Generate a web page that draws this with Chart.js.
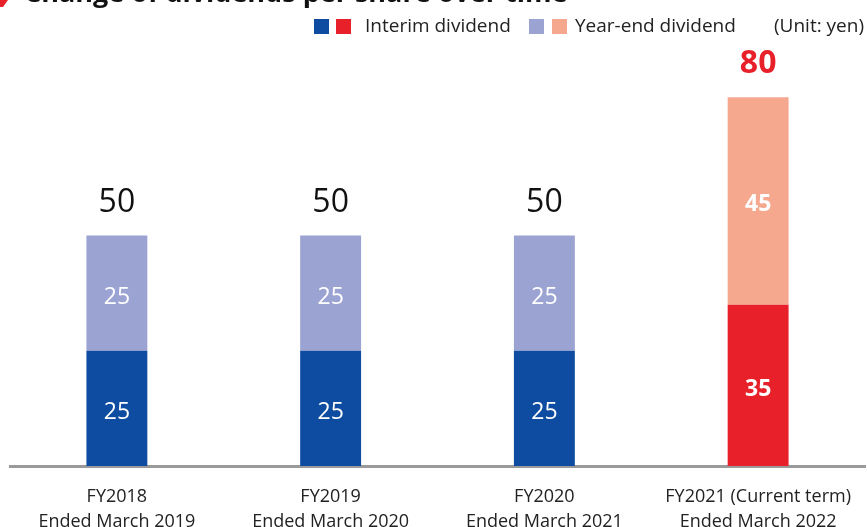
<!DOCTYPE html>
<html>
<head>
<meta charset="utf-8">
<script src="https://cdn.jsdelivr.net/npm/chart.js@4"></script>
<style>
  html, body { margin: 0; padding: 0; background: #fff; }
  #wrap { width: 867px; height: 527px; position: relative; }
</style>
</head>
<body>
<div id="wrap"><canvas id="grafico" width="867" height="527"></canvas></div>
<script>
// datos
const categorias = [
    ['FY2018', 'Ended March 2019'],
    ['FY2019', 'Ended March 2020'],
    ['FY2020', 'Ended March 2021'],
    ['FY2021 (Current term)', 'Ended March 2022']
];
const interino = [25, 25, 25, 35];
const finAnio = [25, 25, 25, 45];
const totales = [50, 50, 50, 80];

const titulo = 'Change of dividends per share over time';
const etiquetasLeyenda = ['Interim dividend', 'Year-end dividend'];
const unidad = '(Unit: yen)';

const azul = '#0d4ca1', rojo = '#e8202a';
const azulClaro = '#9ba3d3', salmon = '#f6a88f';
const fuente = '"Open Sans", sans-serif';

// titulo + leyenda + etiquetas de valores
const dibujarExtras = {
    id: 'extras',
    afterDatasetsDraw(chart) {
        const ctx = chart.ctx;
        ctx.save();

        // titulo cortado arriba
        ctx.fillStyle = rojo;
        ctx.beginPath();
        ctx.moveTo(0, 0); ctx.lineTo(8, 0); ctx.lineTo(3, 7); ctx.lineTo(0, 7);
        ctx.fill();
        ctx.fillStyle = '#111';
        ctx.font = 'bold 27px ' + fuente;
        ctx.textAlign = 'left';
        ctx.textBaseline = 'alphabetic';
        ctx.fillText(titulo, 24, 2);

        // leyenda
        const cuadro = (x, c) => { ctx.fillStyle = c; ctx.fillRect(x, 19, 15, 15); };
        cuadro(314, azul); cuadro(336, rojo);
        cuadro(529, azulClaro); cuadro(552, salmon);
        ctx.fillStyle = '#222';
        ctx.font = '19px ' + fuente;
        ctx.textBaseline = 'middle';
        ctx.fillText(etiquetasLeyenda[0], 365, 27);
        ctx.fillText(etiquetasLeyenda[1], 575, 27);
        ctx.fillText(unidad, 774, 27);

        // valores dentro de las barras
        ctx.textAlign = 'center';
        chart.data.datasets.forEach((ds, i) => {
            chart.getDatasetMeta(i).data.forEach((bar, j) => {
                const ult = j === totales.length - 1;
                ctx.fillStyle = '#fff';
                ctx.font = (ult ? 'bold ' : '') + '23px ' + fuente;
                ctx.fillText(ds.data[j], bar.x, (bar.y + bar.base) / 2 + 4);
            });
        });

        // totales arriba
        const meta = chart.getDatasetMeta(1);
        meta.data.forEach((bar, j) => {
            const ult = j === totales.length - 1;
            ctx.fillStyle = ult ? rojo : '#111';
            ctx.font = (ult ? 'bold ' : '') + '32px ' + fuente;
            ctx.fillText(totales[j], bar.x, bar.y - 33);
        });
        ctx.restore();
    }
};

new Chart(document.getElementById('grafico').getContext('2d'), {
    type: 'bar',
    data: {
        labels: categorias,
        datasets: [{
            label: etiquetasLeyenda[0],
            data: interino,
            backgroundColor: [azul, azul, azul, rojo]
        }, {
            label: etiquetasLeyenda[1],
            data: finAnio,
            backgroundColor: [azulClaro, azulClaro, azulClaro, salmon]
        }]
    },
    options: {
        responsive: false,
        animation: false,
        layout: { padding: { top: 5, left: 10, right: 2, bottom: 0 } },
        categoryPercentage: 1,
        barPercentage: 0.285,
        plugins: { legend: { display: false }, tooltip: { enabled: false } },
        scales: {
            x: {
                stacked: true,
                grid: { display: false },
                border: { display: true, color: '#9a9a9a', width: 3 },
                ticks: {
                    color: '#222',
                    font: { family: fuente, size: 18, lineHeight: 1.39 },
                    padding: 10,
                    maxRotation: 0
                },
                afterFit: (escala) => { escala.height = 61; }
            },
            y: {
                stacked: true,
                display: false,
                min: 0,
                max: 100
            }
        }
    },
    plugins: [dibujarExtras]
});
</script>
</body>
</html>
